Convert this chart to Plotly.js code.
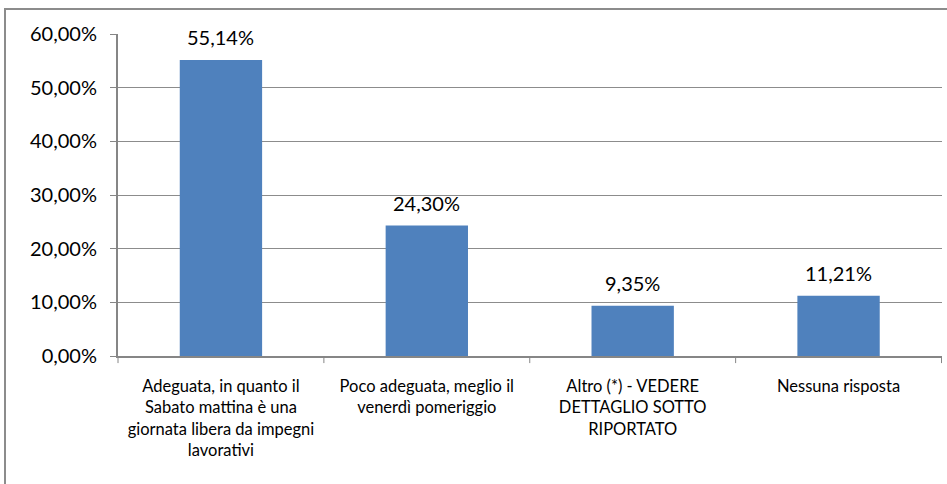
<!DOCTYPE html>
<html><head><meta charset="utf-8">
<script src="https://cdn.plot.ly/plotly-3.0.1.min.js"></script>
<style>
html,body{margin:0;padding:0;background:#fff;overflow:hidden}
#frame{position:absolute;left:4px;top:8px;width:1200px;height:800px;border:2px solid #8c8c8c;box-sizing:border-box}
#chart{position:absolute;left:0;top:0;width:947px;height:484px}
</style></head>
<body>
<div id="frame"></div>
<div id="chart"></div>
<script>
const categories = [
  "Adeguata, in quanto il<br>Sabato mattina è una<br>giornata libera da impegni<br>lavorativi",
  "Poco adeguata, meglio il<br>venerdì pomeriggio",
  "Altro (*) - VEDERE<br>DETTAGLIO SOTTO<br>RIPORTATO",
  "Nessuna risposta"
];
const values = [0.5514, 0.2430, 0.0935, 0.1121];
const valueLabels = ["55,14%", "24,30%", "9,35%", "11,21%"];
const yTicks = [0, 0.1, 0.2, 0.3, 0.4, 0.5, 0.6];

const font = "Lato, 'Open Sans', sans-serif";
Plotly.newPlot('chart', [{
  type: 'bar',
  x: categories,
  y: values,
  marker: {color: '#4F81BD', line: {width: 0}},
  width: 0.4,
  hoverinfo: 'none'
}], {
  width: 947, height: 484,
  margin: {l: 118, r: 5, t: 34, b: 128},
  paper_bgcolor: 'rgba(0,0,0,0)',
  plot_bgcolor: 'rgba(0,0,0,0)',
  separators: ',.',
  showlegend: false,
  xaxis: {
    type: 'category',
    showgrid: false,
    showline: true, linecolor: '#868686', linewidth: 2,
    ticks: '', tickfont: {family: font, size: 16.5, color: '#000'},
    ticklabelstandoff: 14,
    fixedrange: true
  },
  yaxis: {
    range: [0, 0.6],
    tickvals: yTicks,
    tickformat: '.2%',
    showgrid: true, gridcolor: '#8c8c8c', gridwidth: 1,
    showline: true, linecolor: '#868686', linewidth: 2,
    ticks: 'outside', ticklen: 6, tickcolor: '#868686', tickwidth: 1,
    tickfont: {family: font, size: 20, color: '#000'},
    ticklabelstandoff: 9,
    zeroline: false,
    fixedrange: true
  },
  annotations: categories.map((c, i) => ({
    x: c, y: values[i], xref: 'x', yref: 'y',
    text: valueLabels[i], showarrow: false,
    yanchor: 'bottom', yshift: 9,
    font: {family: font, size: 20, color: '#000'}
  })),
  shapes: [1, 2, 3, 4].map(i => ({
    type: 'line', xref: 'x', yref: 'paper',
    x0: i - 0.5, x1: i - 0.5, y0: 0, y1: -0.022,
    line: {color: '#868686', width: 1}
  })).concat([{
    type: 'line', xref: 'paper', yref: 'paper',
    x0: 0, x1: 0, y0: 0, y1: -0.022,
    line: {color: '#868686', width: 1}
  }])
}, {displayModeBar: false, staticPlot: true});
</script>
</body></html>
